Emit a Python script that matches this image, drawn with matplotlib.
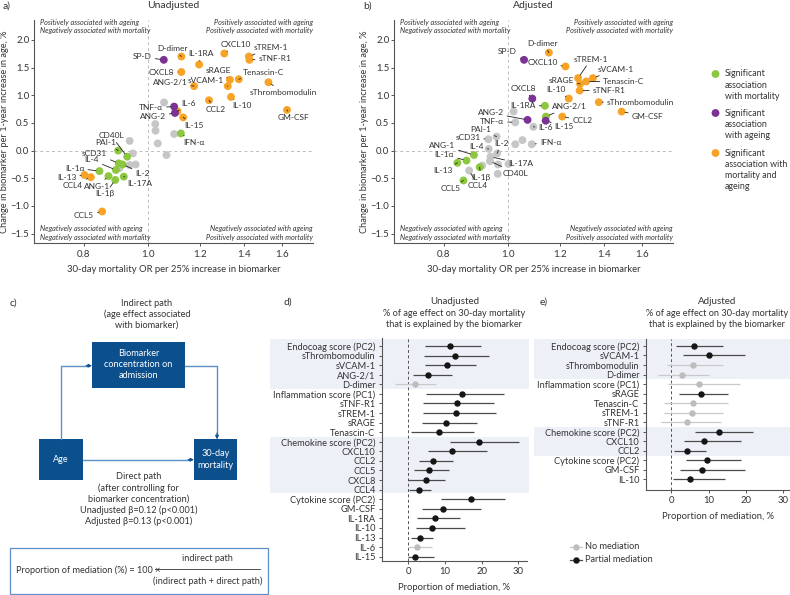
import numpy as np
import matplotlib
matplotlib.use('Agg')
import matplotlib.pyplot as plt
from matplotlib.patches import Rectangle
from matplotlib.lines import Line2D
import matplotlib.transforms as mtrans

plt.rcParams['font.family'] = ['Lato', 'DejaVu Sans']
plt.rcParams['axes.unicode_minus'] = True

# ---------------- DATA ----------------
# Panel a (unadjusted): labelled biomarkers
a_names = ['SP-D', 'D-dimer', 'CXCL8', 'IL-1RA', 'ANG-2/1', 'CXCL10', 'sRAGE', 'sVCAM-1',
           'Tenascin-C', 'sTREM-1', 'sTNF-R1', 'sThrombomodulin', 'GM-CSF', 'IL-10', 'CCL2',
           'IL-6', 'TNF-α', 'ANG-2', 'IL-15', 'IFN-α', 'CD40L', 'PAI-1', 'sCD31', 'IL-2',
           'IL-4', 'IL-1α', 'ANG-1', 'IL-1β', 'IL-17A', 'IL-13', 'CCL4', 'CCL5']
a_or = [1.058, 1.125, 1.125, 1.197, 1.176, 1.307, 1.333, 1.323,
        1.375, 1.424, 1.427, 1.525, 1.627, 1.338, 1.239,
        1.110, 1.097, 1.100, 1.132, 1.123, 0.931, 0.902, 0.904, 0.916,
        0.895, 0.845, 0.872, 0.893, 0.920, 0.802, 0.820, 0.853]
a_age = [1.64, 1.70, 1.42, 1.555, 1.165, 1.755, 1.28, 1.165,
         1.29, 1.70, 1.64, 1.235, 0.735, 0.97, 0.91,
         0.71, 0.795, 0.68, 0.60, 0.31, -0.11, 0.0, -0.23, -0.25,
         -0.35, -0.37, -0.46, -0.53, -0.47, -0.44, -0.48, -1.10]
a_sig = ['a', 'b', 'b', 'b', 'b', 'b', 'b', 'b',
         'b', 'b', 'b', 'b', 'b', 'b', 'b',
         'b', 'a', 'a', 'b', 'm', 'm', 'm', 'm', 'm',
         'm', 'm', 'm', 'm', 'm', 'b', 'b', 'b']
# Panel a: unlabelled, non-significant biomarkers
a_grey_or = [1.059, 1.027, 1.028, 1.036, 1.097, 1.068, 0.939, 0.950, 0.906, 0.939, 0.959]
a_grey_age = [0.87, 0.48, 0.36, 0.13, 0.30, -0.08, 0.175, -0.05, -0.32, -0.26, -0.25]

# Panel b (adjusted)
b_names = ['SP-D', 'D-dimer', 'CXCL10', 'CXCL8', 'IL-1RA', 'ANG-2/1', 'IL-15', 'CCL2',
           'IL-10', 'ANG-2', 'TNF-α', 'IL-6', 'IFN-α', 'PAI-1', 'sCD31', 'IL-2', 'IL-4',
           'ANG-1', 'IL-1α', 'IL-13', 'CCL5', 'CCL4', 'IL-1β', 'IL-17A', 'CD40L',
           'sTREM-1', 'sRAGE', 'Tenascin-C', 'sVCAM-1', 'sTNF-R1', 'sThrombomodulin', 'GM-CSF']
b_or = [1.059, 1.155, 1.224, 1.090, 1.139, 1.143, 1.142, 1.210,
        1.238, 1.072, 1.027, 1.094, 1.088, 0.962, 0.935, 0.964, 0.936,
        0.889, 0.866, 0.839, 0.857, 0.874, 0.907, 0.942, 0.940,
        1.279, 1.288, 1.316, 1.347, 1.286, 1.375, 1.489]
b_age = [1.64, 1.77, 1.52, 0.94, 0.81, 0.615, 0.54, 0.615,
         0.94, 0.555, 0.51, 0.43, 0.115, 0.253, 0.205, -0.05, 0.03,
         -0.08, -0.18, -0.22, -0.54, -0.36, -0.30, -0.11, -0.19,
         1.31, 1.205, 1.25, 1.31, 1.085, 0.875, 0.705]
b_sig = ['a', 'b', 'b', 'a', 'm', 'm', 'a', 'b',
         'b', 'a', 'n', 'n', 'n', 'n', 'n', 'n', 'n',
         'm', 'm', 'm', 'm', 'n', 'm', 'n', 'n',
         'b', 'b', 'b', 'b', 'b', 'b', 'b']
b_grey_or = [0.915, 0.967, 1.003, 0.966, 1.021, 1.027, 1.053]
b_grey_age = [-0.27, -0.25, -0.24, -0.42, 0.705, 0.115, 0.19]

# Panel d (unadjusted mediation)
d_labels = ['Endocoag score (PC2)', 'sThrombomodulin', 'sVCAM-1', 'ANG-2/1', 'D-dimer',
            'Inflammation score (PC1)', 'sTNF-R1', 'sTREM-1', 'sRAGE', 'Tenascin-C',
            'Chemokine score (PC2)', 'CXCL10', 'CCL2', 'CCL5', 'CXCL8', 'CCL4',
            'Cytokine score (PC2)', 'GM-CSF', 'IL-1RA', 'IL-10', 'IL-13', 'IL-6', 'IL-15']
d_est = [11.5, 12.8, 10.5, 5.3, 2.0, 14.6, 13.4, 13.0, 10.3, 8.3,
         19.4, 11.9, 6.7, 5.7, 4.8, 3.0, 17.1, 9.6, 7.2, 6.5, 3.3, 2.4, 1.8]
d_lo = [4.6, 4.4, 4.6, 1.2, -3.6, 4.9, 4.1, 4.0, 3.8, 0.9,
        11.5, 5.4, 2.9, 1.6, 0.1, 0.2, 9.0, 3.7, 2.5, 2.2, 0.7, 0.0, 0.0]
d_hi = [19.8, 22.1, 18.5, 12.0, 7.6, 26.2, 23.4, 23.9, 18.8, 18.0,
        30.1, 21.5, 12.3, 11.1, 10.1, 6.3, 26.3, 19.9, 14.2, 15.4, 6.9, 6.5, 7.1]
d_partial = [1, 1, 1, 1, 0, 1, 1, 1, 1, 1, 1, 1, 1, 1, 1, 1, 1, 1, 1, 1, 1, 0, 1]

# Panel e (adjusted mediation)
e_labels = ['Endocoag score (PC2)', 'sVCAM-1', 'sThrombomodulin', 'D-dimer',
            'Inflammation score (PC1)', 'sRAGE', 'Tenascin-C', 'sTREM-1', 'sTNF-R1',
            'Chemokine score (PC2)', 'CXCL10', 'CCL2',
            'Cytokine score (PC2)', 'GM-CSF', 'IL-10']
e_est = [6.1, 10.1, 5.9, 2.9, 7.5, 7.9, 5.9, 5.4, 4.2, 12.7, 8.7, 4.1, 9.6, 8.3, 4.9]
e_lo = [1.2, 3.2, -1.25, -3.6, -0.8, 2.1, -2.0, -2.0, -2.8, 6.25, 3.4, 0.8, 3.9, 2.3, 0.5]
e_hi = [13.8, 19.8, 13.9, 10.1, 18.4, 15.3, 15.1, 13.8, 13.2, 21.9, 18.6, 9.3, 18.6, 19.7, 14.5]
e_partial = [1, 1, 0, 0, 0, 1, 0, 0, 0, 1, 1, 1, 1, 1, 1]

# ---------------- STYLE / LAYOUT ----------------
W, H = 790, 595
COL = {'m': '#8dc63f', 'a': '#7b3294', 'b': '#f7a325', 'n': '#c6c6c6'}
TXT = '#333333'
SP = '#555555'

# label offsets (pixels; ha)
a_off = {'SP-D': ('right', -12, 3), 'D-dimer': ('center', -9, 8), 'CXCL8': ('right', -7, 0),
         'IL-1RA': ('center', 2, 11), 'ANG-2/1': ('right', -6, 4), 'CXCL10': ('center', 12, 9),
         'sRAGE': ('center', -12, 9), 'sVCAM-1': ('right', -4, 6), 'Tenascin-C': ('left', 4, 7),
         'sTREM-1': ('left', 5, 9), 'sTNF-R1': ('left', 9, 1), 'sThrombomodulin': ('left', -19, -10),
         'GM-CSF': ('center', 6, -8), 'IL-10': ('center', 11, -9), 'CCL2': ('center', 7, -9),
         'IL-6': ('left', 4, 8), 'TNF-α': ('right', -11, -1), 'ANG-2': ('right', -9, -4),
         'IL-15': ('center', 11, -8), 'IFN-α': ('center', 13, -9), 'CD40L': ('center', -16, 21),
         'PAI-1': ('center', -12, 8), 'sCD31': ('center', -24, 10), 'IL-2': ('center', 20, -9),
         'IL-4': ('center', -24, 10), 'IL-1α': ('right', -15, 3), 'ANG-1': ('center', -11, -10),
         'IL-1β': ('center', -10, -14), 'IL-17A': ('center', 16, -7), 'IL-13': ('right', -8, -3),
         'CCL4': ('right', -8, -8), 'CCL5': ('right', -8, -4)}
b_off = {'SP-D': ('right', -7, 8), 'D-dimer': ('center', -6, 9), 'CXCL10': ('right', -8, 4),
         'CXCL8': ('center', -9, 10), 'IL-1RA': ('right', -9, 0), 'ANG-2/1': ('left', 6, 10),
         'IL-15': ('left', 9, -6), 'CCL2': ('left', 10, -4), 'IL-10': ('center', -13, 9),
         'ANG-2': ('center', -37, 7), 'TNF-α': ('right', -11, 1), 'IL-6': ('left', 5, -1),
         'IFN-α': ('left', 8, 2), 'PAI-1': ('center', -16, 7), 'sCD31': ('right', -8, 2),
         'IL-2': ('center', 4, 10), 'IL-4': ('center', -12, 2), 'ANG-1': ('center', -32, 10),
         'IL-1α': ('center', -22, 6), 'IL-13': ('center', -14, -8), 'CCL5': ('center', -13, -8),
         'CCL4': ('center', 9, -15), 'IL-1β': ('center', 1, -10), 'IL-17A': ('center', 30, -7),
         'CD40L': ('center', 26, -12), 'sTREM-1': ('center', 13, 19), 'sRAGE': ('right', -6, 3),
         'Tenascin-C': ('left', 17, 0), 'sVCAM-1': ('left', 5, 9), 'sTNF-R1': ('left', 13, 0),
         'sThrombomodulin': ('left', 8, 0), 'GM-CSF': ('left', 10, -5)}

fig = plt.figure(figsize=(W / 100, H / 100), dpi=100)


def axpx(l, t, r, b):
    return fig.add_axes([l / W, 1 - b / H, (r - l) / W, (b - t) / H])


def T(x, y, s, **kw):
    kw.setdefault('color', TXT)
    kw.setdefault('va', 'center')
    fig.text(x / W, 1 - y / H, s, **kw)


def scatter_panel(ax, names, ors, ages, sigs, gor, gage, offs):
    ax.set_xscale('log')
    ax.set_xlim(0.673, 1.78)
    ax.set_ylim(-1.675, 2.36)
    ax.axvline(1.0, color='#bbbbbb', lw=0.7, ls=(0, (3, 3)), zorder=0)
    ax.axhline(0.0, color='#bbbbbb', lw=0.7, ls=(0, (3, 3)), zorder=0)
    ax.scatter(gor, gage, s=32, color=COL['n'], edgecolor='none', zorder=2)
    order = sorted(range(len(names)), key=lambda i: 0 if sigs[i] == 'n' else 1)
    for i in order:
        ax.scatter([ors[i]], [ages[i]], s=32, color=COL[sigs[i]], edgecolor='none', zorder=3)
    for i, n in enumerate(names):
        ha, dx, dy = offs[n]
        ax.annotate(n, (ors[i], ages[i]), xytext=(dx, dy), textcoords='offset pixels',
                    ha=ha, va='center', fontsize=6, color=TXT, zorder=4,
                    arrowprops=dict(arrowstyle='-', lw=0.6, color='#222222',
                                    shrinkA=0.5, shrinkB=2.5))
    ax.set_xticks([0.8, 1.0, 1.2, 1.4, 1.6])
    ax.set_xticklabels(['0.8', '1.0', '1.2', '1.4', '1.6'])
    ax.xaxis.set_minor_locator(matplotlib.ticker.NullLocator())
    ax.set_yticks([-1.5, -1.0, -0.5, 0.0, 0.5, 1.0, 1.5, 2.0])
    ax.set_yticklabels(['−1.5', '−1.0', '−0.5', '0.0', '0.5', '1.0', '1.5', '2.0'])
    for s in ['top', 'right']:
        ax.spines[s].set_visible(False)
    for s in ['left', 'bottom']:
        ax.spines[s].set_color(SP)
        ax.spines[s].set_linewidth(0.8)
    ax.tick_params(axis='y', labelsize=6.8, colors=SP, labelcolor=TXT, length=2, width=0.7, pad=1.5)
    ax.tick_params(axis='x', labelsize=7, colors=SP, labelcolor=TXT, length=2.5, width=0.7, pad=2.5)
    ax.set_xlabel('30-day mortality OR per 25% increase in biomarker', fontsize=6.8,
                  color=TXT, labelpad=4)
    ax.set_ylabel('Change in biomarker per 1-year increase in age, %', fontsize=6.7,
                  color=TXT)
    ax.yaxis.set_label_coords(-0.092, 0.5)


# ---------------- Panels a, b ----------------
axa = axpx(34.3, 20, 312.7, 243.3)
scatter_panel(axa, a_names, a_or, a_age, a_sig, a_grey_or, a_grey_age, a_off)
axb = axpx(394.3, 20, 672.7, 243.3)
scatter_panel(axb, b_names, b_or, b_age, b_sig, b_grey_or, b_grey_age, b_off)

T(3, 6, 'a)', fontsize=7.5)
T(173, 6, 'Unadjusted', fontsize=7.5, ha='center')
T(363, 6, 'b)', fontsize=7.5)
T(533, 6, 'Adjusted', fontsize=7.5, ha='center')

qfs = 5.2
for (x0, x1) in [(40, 312.7), (400, 672.7)]:
    T(x0, 22, 'Positively associated with ageing', fontsize=qfs, style='italic', ha='left')
    T(x0, 30.7, 'Negatively associated with mortality', fontsize=qfs, style='italic', ha='left')
    T(x1, 22, 'Positively associated with ageing', fontsize=qfs, style='italic', ha='right')
    T(x1, 30.7, 'Positively associated with mortality', fontsize=qfs, style='italic', ha='right')
    T(x0, 229, 'Negatively associated with ageing', fontsize=qfs, style='italic', ha='left')
    T(x0, 237.7, 'Negatively associated with mortality', fontsize=qfs, style='italic', ha='left')
    T(x1, 229, 'Negatively associated with ageing', fontsize=qfs, style='italic', ha='right')
    T(x1, 237.7, 'Positively associated with mortality', fontsize=qfs, style='italic', ha='right')

# overlay axes in pixel coordinates for diagram / legends
ov = fig.add_axes([0, 0, 1, 1])
ov.set_xlim(0, W)
ov.set_ylim(H, 0)
ov.axis('off')
ov.patch.set_visible(False)
leg = [('m', ['Significant', 'association', 'with mortality'], 74),
       ('a', ['Significant', 'association', 'with ageing'], 113),
       ('b', ['Significant', 'association with', 'mortality and', 'ageing'], 153)]
for k, lines, y0 in leg:
    ov.scatter([715.5], [y0], s=32, color=COL[k], edgecolor='none')
    for j, l in enumerate(lines):
        T(725, y0 + j * 11.3, l, fontsize=6.4, ha='left')

# ---------------- Panel c ----------------
BLUE = '#0b4f8c'
LBLUE = '#5d8fcb'
T(10, 303, 'c)', fontsize=7.5)
T(147, 303, 'Indirect path', fontsize=6.6, ha='center')
T(147, 314, '(age effect associated', fontsize=6.6, ha='center')
T(147, 325, 'with biomarker)', fontsize=6.6, ha='center')
ov.add_patch(Rectangle((92, 342.3), 93, 46, facecolor=BLUE, edgecolor='none'))
ov.add_patch(Rectangle((39.3, 439.3), 43.4, 40.7, facecolor=BLUE, edgecolor='none'))
ov.add_patch(Rectangle((194, 439.3), 43.3, 40.7, facecolor=BLUE, edgecolor='none'))
T(138.5, 353, 'Biomarker', fontsize=6.6, ha='center', color='white')
T(138.5, 364.5, 'concentration on', fontsize=6.6, ha='center', color='white')
T(138.5, 376, 'admission', fontsize=6.6, ha='center', color='white')
T(61, 460, 'Age', fontsize=6.6, ha='center', color='white')
T(215.7, 454, '30-day', fontsize=6.6, ha='center', color='white')
T(215.7, 465.5, 'mortality', fontsize=6.6, ha='center', color='white')
ov.add_line(Line2D([61, 61, 88], [439.3, 365.7, 365.7], color=LBLUE, lw=1.0))
ov.annotate('', xy=(92, 365.7), xytext=(86, 365.7),
            arrowprops=dict(arrowstyle='-|>', color=BLUE, lw=0.8, mutation_scale=5,
                            shrinkA=0, shrinkB=0))
ov.add_line(Line2D([185, 217, 217], [365.7, 365.7, 435], color=LBLUE, lw=1.0))
ov.annotate('', xy=(217, 439.3), xytext=(217, 433),
            arrowprops=dict(arrowstyle='-|>', color=BLUE, lw=0.8, mutation_scale=5,
                            shrinkA=0, shrinkB=0))
ov.add_line(Line2D([82.7, 190], [459.7, 459.7], color=LBLUE, lw=1.0))
ov.annotate('', xy=(194, 459.7), xytext=(188, 459.7),
            arrowprops=dict(arrowstyle='-|>', color=BLUE, lw=0.8, mutation_scale=5,
                            shrinkA=0, shrinkB=0))
for j, l in enumerate(['Direct path', '(after controlling for', 'biomarker concentration)',
                       'Unadjusted β=0.12 (p<0.001)', 'Adjusted β=0.13 (p<0.001)']):
    T(138.3, 476.7 + j * 11.2, l, fontsize=6.6, ha='center')
ov.add_patch(Rectangle((10, 548.3), 257.7, 45.5, facecolor='none', edgecolor=LBLUE, lw=0.9))
T(15.7, 570, 'Proportion of mediation (%) = 100 ×', fontsize=6.6, ha='left')
T(207.7, 558.3, 'indirect path', fontsize=6.6, ha='center')
ov.add_line(Line2D([155, 260], [569, 569], color=TXT, lw=0.6))
T(207.7, 581.7, '(indirect path + direct path)', fontsize=6.6, ha='center')


# ---------------- Forest panels ----------------
def forest(ax, labels, est, lo, hi, partial, ylim, xlim, bands, band_x):
    n = len(labels)
    y = np.arange(n)
    blend = mtrans.blended_transform_factory(fig.transFigure, ax.transData)
    for (r0, r1) in bands:
        ax.add_patch(Rectangle((band_x[0] / W, r0), (band_x[1] - band_x[0]) / W, r1 - r0,
                               transform=blend, facecolor='#eef0f8', edgecolor='none',
                               clip_on=False, zorder=0))
    ax.axvline(0, color='#555555', lw=0.7, ls=(0, (3, 2.5)), zorder=1)
    for i in range(n):
        if partial[i]:
            lc, mc = '#4a4a4a', '#151515'
        else:
            lc, mc = '#c9c9c9', '#bdbdbd'
        ax.plot([lo[i], hi[i]], [y[i], y[i]], color=lc, lw=0.9, zorder=2, solid_capstyle='butt')
        ax.plot([est[i]], [y[i]], 'o', color=mc, ms=3.6, zorder=3)
    ax.set_ylim(*ylim)
    ax.set_xlim(*xlim)
    ax.set_yticks(y)
    ax.set_yticklabels(labels)
    ax.set_xticks([0, 10, 20, 30])
    ax.patch.set_visible(False)
    for s in ['top', 'right']:
        ax.spines[s].set_visible(False)
    for s in ['left', 'bottom']:
        ax.spines[s].set_color(SP)
        ax.spines[s].set_linewidth(0.8)
    ax.tick_params(axis='y', labelsize=6.7, colors=SP, labelcolor=TXT, length=2.5, width=0.7, pad=2)
    ax.tick_params(axis='x', labelsize=6.8, colors=SP, labelcolor=TXT, length=2.5, width=0.7, pad=2)


axd = axpx(381.7, 338, 526.7, 561)
forest(axd, d_labels, d_est, d_lo, d_hi, d_partial, (22.45, -0.83), (-7.2, 32.3),
       [(-0.7, 4.5), (9.5, 15.4)], (270, 529))
T(454.3, 587.7, 'Proportion of mediation, %', fontsize=6.8, ha='center')

axe = axpx(645.7, 339.3, 790, 490)
forest(axe, e_labels, e_est, e_lo, e_hi, e_partial, (15.12, -0.7), (-6.9, 31.8),
       [(-0.7, 3.5), (8.5, 11.5)], (534, 790))
T(717.7, 516.7, 'Proportion of mediation, %', fontsize=6.8, ha='center')

T(284, 302, 'd)', fontsize=7.5)
T(454.5, 302, 'Unadjusted', fontsize=7, ha='center')
T(454.5, 314, '% of age effect on 30-day mortality', fontsize=6.6, ha='center')
T(454.5, 325, 'that is explained by the biomarker', fontsize=6.6, ha='center')
T(540, 302, 'e)', fontsize=7.5)
T(717, 302, 'Adjusted', fontsize=7, ha='center')
T(717, 314, '% of age effect on 30-day mortality', fontsize=6.6, ha='center')
T(717, 325, 'that is explained by the biomarker', fontsize=6.6, ha='center')

# forest legend
for yy, lc, mc, lab in [(546.7, '#c9c9c9', '#bdbdbd', 'No mediation'),
                        (560, '#4a4a4a', '#151515', 'Partial mediation')]:
    ov.add_line(Line2D([570, 582], [yy, yy], color=lc, lw=0.9))
    ov.plot([576], [yy], 'o', color=mc, ms=3.6)
    T(585, yy, lab, fontsize=6.6, ha='left')

fig.savefig('out.png', dpi=100)
